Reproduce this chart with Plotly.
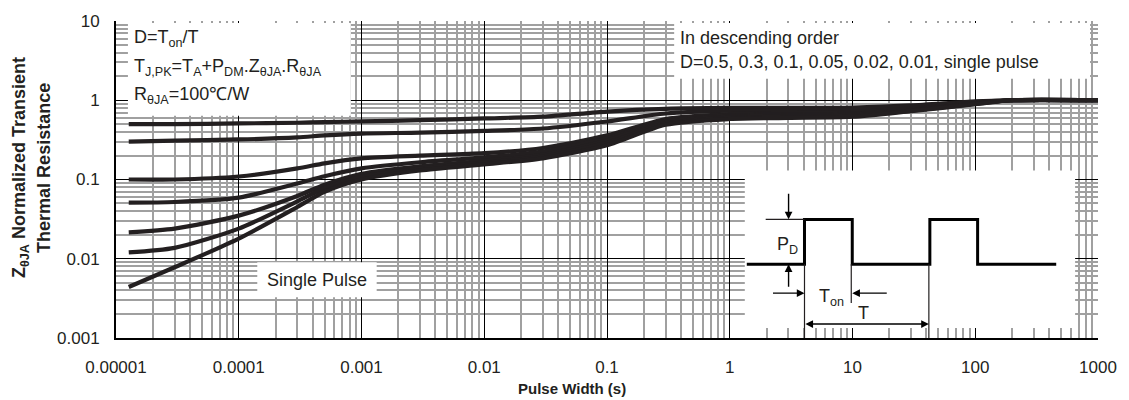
import plotly.graph_objects as go

# ---------------- data ----------------
pulse_width = [1.27e-5, 3e-5, 1e-4, 3e-4, 5e-4, 1e-3, 3e-3, 1e-2, 3e-2, 0.1, 0.3, 1, 3, 10, 30, 100, 200, 1000]
z_d050 = [0.50, 0.50, 0.51, 0.52, 0.53, 0.54, 0.56, 0.59, 0.62, 0.72, 0.78, 0.80, 0.80, 0.81, 0.86, 0.97, 1.0, 1.0]
z_d030 = [0.30, 0.31, 0.32, 0.34, 0.36, 0.38, 0.39, 0.41, 0.44, 0.54, 0.68, 0.74, 0.75, 0.77, 0.83, 0.95, 1.0, 1.0]
z_d010 = [0.10, 0.10, 0.109, 0.138, 0.16, 0.185, 0.20, 0.215, 0.25, 0.36, 0.58, 0.67, 0.69, 0.71, 0.79, 0.93, 1.0, 1.0]
z_d005 = [0.051, 0.052, 0.059, 0.089, 0.110, 0.138, 0.165, 0.19, 0.225, 0.33, 0.55, 0.64, 0.66, 0.68, 0.77, 0.92, 1.0, 1.0]
z_d002 = [0.0215, 0.024, 0.035, 0.062, 0.086, 0.118, 0.147, 0.172, 0.205, 0.31, 0.53, 0.62, 0.64, 0.66, 0.75, 0.91, 1.0, 1.0]
z_d001 = [0.012, 0.0137, 0.024, 0.053, 0.078, 0.108, 0.137, 0.163, 0.195, 0.29, 0.51, 0.60, 0.62, 0.64, 0.74, 0.90, 1.0, 1.0]
z_single = [0.0044, 0.0078, 0.018, 0.045, 0.070, 0.100, 0.130, 0.155, 0.185, 0.27, 0.49, 0.58, 0.60, 0.62, 0.73, 0.89, 1.0, 1.0]

series_names = ["D=0.5", "D=0.3", "D=0.1", "D=0.05", "D=0.02", "D=0.01", "Single Pulse"]
series_values = [z_d050, z_d030, z_d010, z_d005, z_d002, z_d001, z_single]

x_tickvals = [1e-5, 1e-4, 1e-3, 1e-2, 1e-1, 1, 10, 100, 1000]
x_ticktext = ["0.00001", "0.0001", "0.001", "0.01", "0.1", "1", "10", "100", "1000"]
y_tickvals = [0.001, 0.01, 0.1, 1, 10]
y_ticktext = ["0.001", "0.01", "0.1", "1", "10"]

# inset waveform (schematic, in page pixels)
wave_x = [750, 808, 808, 856, 856, 934, 934, 982, 982, 1061]
wave_y = [264, 264, 219, 219, 264, 264, 219, 219, 264, 264]

# ---------------- layout helpers ----------------
W, H = 1129, 400
L, R, T, B = 116, 1103, 20, 338
FONT = "Liberation Sans, Arial, sans-serif"
INK = "#231f20"


def px(x, y):
    return (x - L) / (R - L), (B - y) / (B - T)


def minor_vals(lo, hi):
    out = []
    for e in range(lo, hi):
        for k in range(2, 10):
            out.append(k * 10.0 ** e)
    return out


fig = go.Figure()
for name, vals in zip(series_names, series_values):
    fig.add_trace(go.Scatter(
        x=pulse_width, y=vals, mode="lines", name=name,
        line=dict(color=INK, width=4.2, shape="spline", smoothing=0.7),
        showlegend=False,
    ))

shapes = []
annotations = []


def white_box(x0, y0, x1, y1):
    a = px(x0, y0)
    b = px(x1, y1)
    shapes.append(dict(type="rect", xref="paper", yref="paper", x0=a[0], y0=b[1], x1=b[0], y1=a[1],
                       fillcolor="white", line=dict(width=0), layer="above"))


white_box(128, 22, 352, 115)
white_box(677, 22, 1095, 78)
white_box(258, 262, 378, 297)
white_box(748, 170, 1080, 328)


def line(x0, y0, x1, y1, w=1.2):
    a = px(x0, y0)
    b = px(x1, y1)
    shapes.append(dict(type="line", xref="paper", yref="paper", x0=a[0], y0=a[1], x1=b[0], y1=b[1],
                       line=dict(color=INK, width=w), layer="above"))


# waveform
path = ""
for i, (wx, wy) in enumerate(zip(wave_x, wave_y)):
    p = px(wx, wy)
    path += ("M" if i == 0 else " L") + f"{p[0]:.5f},{p[1]:.5f}"
shapes.append(dict(type="path", xref="paper", yref="paper", path=path,
                   line=dict(color="black", width=3), layer="above"))

line(769, 219, 808, 219)
line(808, 264, 808, 338)
line(855, 264, 855, 303)
line(933, 264, 933, 338)


def text(x, y, s, size=18, anchor="left", bold=False, angle=0):
    p = px(x, y)
    annotations.append(dict(xref="paper", yref="paper", x=p[0], y=p[1], text=s, showarrow=False,
                            xanchor=anchor, yanchor="middle", textangle=angle,
                            font=dict(family=FONT, size=size, color=INK)))


def arrow(x, y, ax, ay, both=False):
    p = px(x, y)
    annotations.append(dict(xref="paper", yref="paper", x=p[0], y=p[1], text="", showarrow=True,
                            ax=ax, ay=ay, axref="pixel", ayref="pixel",
                            arrowhead=2, arrowsize=1.1, arrowwidth=1.4, arrowcolor="black",
                            startarrowhead=2, startarrowsize=1.1,
                            arrowside="end+start" if both else "end", standoff=0, startstandoff=0))


arrow(792, 219, 0, -27)
arrow(792, 264, 0, 24)
arrow(808, 293, -33, 0)
arrow(856, 293, 36, 0)
arrow(933, 324, -125, 0, both=True)

text(778, 245, "P<sub>D</sub>", 18)
text(821, 297, "T<sub>on</sub>", 18)
text(867, 313, "T", 18, anchor="center")

text(132, 38, "D=T<sub>on</sub>/T")
text(132, 67, "T<sub>J,PK</sub>=T<sub>A</sub>+P<sub>DM</sub>.Z<sub>θJA</sub>.R<sub>θJA</sub>")
text(132, 95, "R<sub>θJA</sub>=100℃/W")
text(681, 37, "In descending order")
text(681, 61, "D=0.5, 0.3, 0.1, 0.05, 0.02, 0.01, single pulse")
text(318, 280, "Single Pulse", anchor="center")

text(574, 389, "<b>Pulse Width (s)</b>", 15, anchor="center")
text(20, 167, "<b>Z<sub>θJA</sub> Normalized Transient</b>", 18, anchor="center", angle=-90)
text(43, 167, "<b>Thermal Resistance</b>", 18, anchor="center", angle=-90)

axis_common = dict(
    type="log", showgrid=True, gridcolor="black", gridwidth=1,
    showline=True, linecolor="black", linewidth=2, ticks="",
    zeroline=False, tickfont=dict(family=FONT, size=17, color=INK),
)

fig.update_layout(
    width=W, height=H,
    margin=dict(l=L, r=W - R, t=T, b=H - B),
    paper_bgcolor="white", plot_bgcolor="white",
    xaxis=dict(axis_common, range=[-5, 3], tickmode="array", tickvals=x_tickvals, ticktext=x_ticktext,
               ticklabelstandoff=13,
               minor=dict(tickvals=minor_vals(-5, 3), showgrid=True, gridcolor="#a0a0a0", gridwidth=2, ticks="")),
    yaxis=dict(axis_common, range=[-3, 1], tickmode="array", tickvals=y_tickvals, ticktext=y_ticktext,
               ticklabelstandoff=11,
               minor=dict(tickvals=minor_vals(-3, 1), showgrid=True, gridcolor="#a0a0a0", gridwidth=2, ticks="")),
    shapes=shapes,
    annotations=annotations,
)

fig.write_html("out.html")
